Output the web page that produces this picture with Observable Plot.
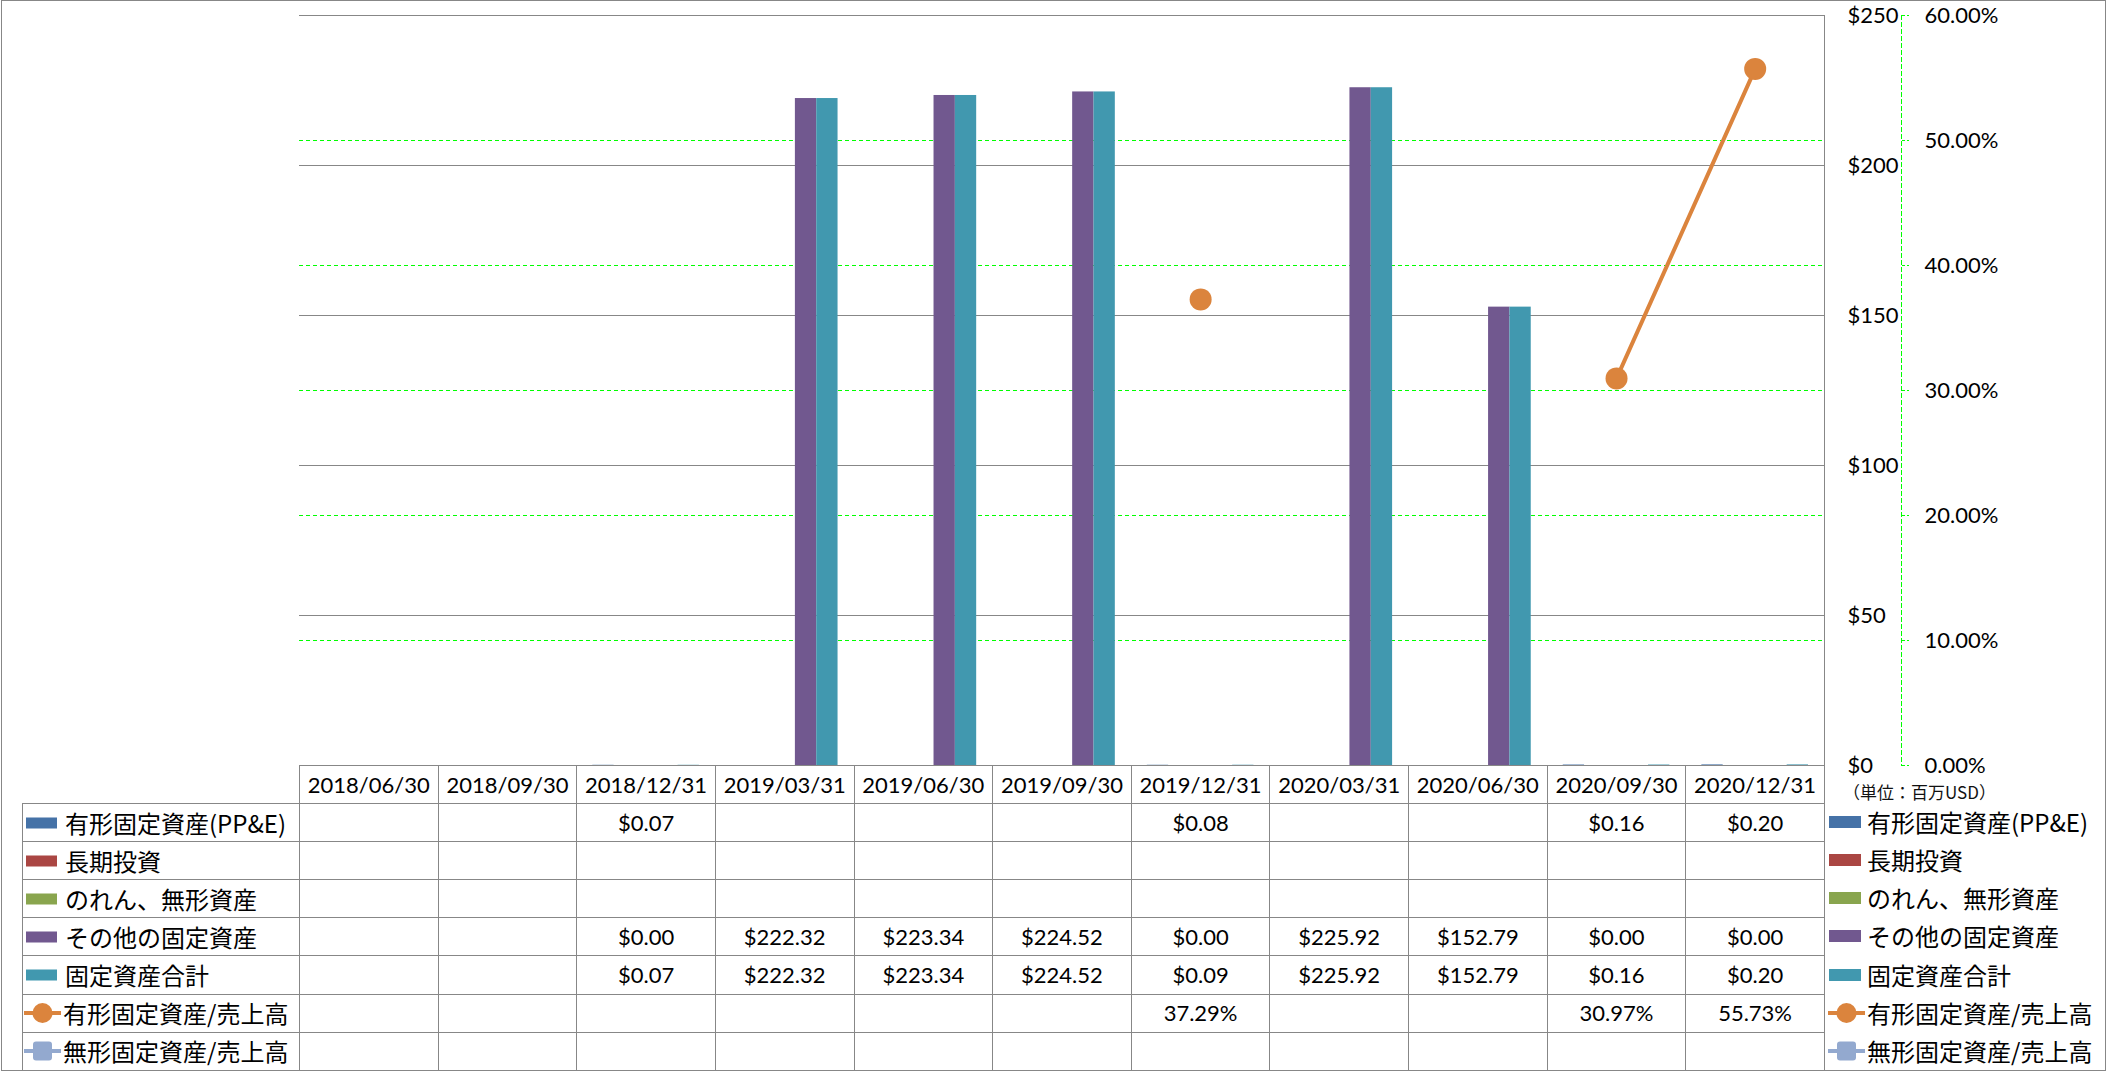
<!DOCTYPE html>
<html>
<head>
<meta charset="utf-8">
<script src="https://cdn.jsdelivr.net/npm/d3@7"></script>
<script src="https://cdn.jsdelivr.net/npm/@observablehq/plot@0.6"></script>
<style>
  body { margin: 0; background: #fff; }
  #chart { position: relative; width: 2107px; height: 1071px; overflow: hidden; background: #fff;
           font-family: Lato, "Noto Sans CJK JP", sans-serif; color: #000; }
  .layer { position: absolute; left: 0; top: 0; }
  .layer svg { max-width: none; }
  #border { position: absolute; left: 1px; top: 0; width: 2105px; height: 1071px; box-sizing: border-box;
            border: 1px solid #878787; pointer-events: none; }
  #tbl { position: absolute; left: 22px; top: 765px; width: 1802px; border-collapse: collapse; table-layout: fixed; }
  #tbl td { border: 1px solid #878787; padding: 0; height: 37.1px; text-align: center; vertical-align: middle;
            font-family: Lato, "Noto Sans CJK JP", sans-serif; font-size: 22px; line-height: 1; white-space: nowrap; }
  #tbl td.corner { border-top: hidden; border-left: hidden; }
  #tbl td.lab { text-align: left; }
  .labwrap { display: flex; align-items: center; font-family: "Noto Sans CJK JP", sans-serif; font-size: 24px; line-height: 1; }
  .labwrap svg { flex: none; display: block; }
  #unit { position: absolute; left: 1843px; top: 781px; font-family: "Noto Sans CJK JP", sans-serif; font-size: 17px;
          line-height: 22px; white-space: nowrap; color: #111; }
  #legend { position: absolute; left: 1827px; top: 803px; }
  #legend .item { height: 38.15px; display: flex; align-items: center; font-family: "Noto Sans CJK JP", sans-serif;
                  font-size: 24px; line-height: 1; white-space: nowrap; }
  #legend svg { flex: none; display: block; }
</style>
</head>
<body>
<div id="chart">
  <div id="layerG" class="layer"></div>
  <div id="layerD" class="layer"></div>
  <div id="layerA" class="layer"></div>
  <div id="layerL" class="layer"></div>
  <table id="tbl"></table>
  <div id="unit">（単位：百万USD）</div>
  <div id="legend"></div>
  <div id="border"></div>
</div>
<script>
// ---------------- data ----------------
const dates = ["2018/06/30","2018/09/30","2018/12/31","2019/03/31","2019/06/30","2019/09/30","2019/12/31","2020/03/31","2020/06/30","2020/09/30","2020/12/31"];
const ppe           = [null, null, 0.07, null,   null,   null,   0.08, null,   null,   0.16, 0.20];
const longTermInv   = [null, null, null, null,   null,   null,   null, null,   null,   null, null];
const goodwill      = [null, null, null, null,   null,   null,   null, null,   null,   null, null];
const otherFixed    = [null, null, 0.00, 222.32, 223.34, 224.52, 0.00, 225.92, 152.79, 0.00, 0.00];
const totalFixed    = [null, null, 0.07, 222.32, 223.34, 224.52, 0.09, 225.92, 152.79, 0.16, 0.20];
const ppeToSales    = [null, null, null, null,   null,   null,   0.3729, null, null,   0.3097, 0.5573];
const intangToSales = [null, null, null, null,   null,   null,   null, null,   null,   null, null];

const barNames  = ["有形固定資産(PP&E)", "長期投資", "のれん、無形資産", "その他の固定資産", "固定資産合計"];
const lineNames = ["有形固定資産/売上高", "無形固定資産/売上高"];
const barColors  = ["#4572A7", "#AA4643", "#89A54E", "#71588F", "#4198AF"];
const lineColors = ["#DB843D", "#93A9CF"];
const dollarTicks = [0, 50, 100, 150, 200, 250];
const pctTicks = [0, 0.1, 0.2, 0.3, 0.4, 0.5, 0.6];
const unitLabel = "（単位：百万USD）";

// ---------------- derived tables ----------------
const barArrays = [ppe, longTermInv, goodwill, otherFixed, totalFixed];
const lineArrays = [ppeToSales, intangToSales];
const barRows = [];
barArrays.forEach((arr, k) => arr.forEach((v, i) => {
  if (v != null) barRows.push({date: dates[i], series: barNames[k], value: v});
}));
const lineRows = lineArrays.map((arr, k) => dates.map((d, i) => ({date: d, series: lineNames[k], value: arr[i]})));

const gray = "#878787";
const green = "#00ff00";
const fontStyle = {background: "transparent", fontFamily: "Lato, 'Noto Sans CJK JP', sans-serif", fontSize: "22px", color: "#000", overflow: "visible"};
const common = {width: 2107, height: 766, marginTop: 15, marginBottom: 1, marginLeft: 299};

// ---------------- layer G: secondary (percent) axis + green grid ----------------
const plotG = Plot.plot({
  ...common, marginRight: 206,
  style: fontStyle,
  y: {domain: [0, 0.6], axis: null},
  marks: [
    Plot.ruleY(pctTicks.filter(t => t > 0 && t < 0.6), {stroke: green, strokeDasharray: "4,3", strokeWidth: 1, insetRight: 77}),
    Plot.frame({anchor: "right", stroke: green, strokeDasharray: "4,3"}),
    Plot.axisY({ticks: pctTicks, anchor: "right", label: null, tickSize: 7, tickPadding: 16, tickFormat: d3.format(".2%"),
                stroke: green, strokeDasharray: "3,2", fill: "#000", fontSize: 22})
  ]
});
document.getElementById("layerG").append(plotG);

// ---------------- layer D: primary ($) grid + axis ----------------
const plotD = Plot.plot({
  ...common, marginRight: 283,
  style: fontStyle,
  y: {domain: [0, 250], axis: null},
  marks: [
    Plot.gridY({ticks: dollarTicks, stroke: gray, strokeOpacity: 1, strokeWidth: 1}),
    Plot.axisY({ticks: dollarTicks, anchor: "right", label: null, tickSize: 0, tickPadding: 23, tickFormat: d => "$" + d, fontSize: 22})
  ]
});
document.getElementById("layerD").append(plotD);

// ---------------- layer A: grouped bars ----------------
const plotA = Plot.plot({
  ...common, marginRight: 283,
  style: fontStyle,
  fx: {domain: dates, padding: 0, round: false, axis: null, label: null},
  x: {domain: barNames, paddingInner: 0, paddingOuter: 0.75, round: false, axis: null},
  y: {domain: [0, 250], axis: null},
  color: {domain: barNames, range: barColors},
  marks: [
    Plot.barY(barRows, {fx: "date", x: "series", y: "value", fill: "series"})
  ]
});
document.getElementById("layerA").append(plotA);

// ---------------- layer L: ratio line ----------------
const plotL = Plot.plot({
  ...common, marginRight: 283,
  style: fontStyle,
  x: {type: "band", domain: dates, padding: 0, round: false, axis: null},
  y: {domain: [0, 0.6], axis: null},
  marks: [
    Plot.frame({anchor: "right", stroke: gray}),
    ...lineRows.map((rows, k) => Plot.line(rows, {x: "date", y: "value", stroke: lineColors[k], strokeWidth: 4})),
    ...lineRows.map((rows, k) => Plot.dot(rows.filter(d => d.value != null), {x: "date", y: "value", r: 11, fill: lineColors[k], stroke: "none", symbol: k === 0 ? "circle" : "square"}))
  ]
});
document.getElementById("layerL").append(plotL);

// ---------------- data table + legend ----------------
function swatch(kind, color, forLegend) {
  if (kind === "bar") {
    return forLegend
      ? `<svg width="38" height="22" style="margin-left:2px"><rect x="0" y="5" width="32" height="12" fill="${color}"/></svg>`
      : `<svg width="39" height="22" style="margin-left:3px"><rect x="0" y="5.5" width="31" height="11" fill="${color}"/></svg>`;
  }
  const w = 37;
  const marker = kind === "circle"
    ? `<circle cx="${w/2}" cy="11" r="10" fill="${color}"/>`
    : `<rect x="${w/2 - 9.5}" y="1.5" width="19" height="19" rx="3" fill="${color}"/>`;
  return `<svg width="${w + 2}" height="22" style="margin-left:1px"><line x1="0" y1="11" x2="${w}" y2="11" stroke="${color}" stroke-width="4"/>${marker}</svg>`;
}
const rowsDef = [
  ...barNames.map((n, k) => ({name: n, kind: "bar", color: barColors[k], values: barArrays[k], fmt: v => "$" + v.toFixed(2)})),
  ...lineNames.map((n, k) => ({name: n, kind: k === 0 ? "circle" : "square", color: lineColors[k], values: lineArrays[k], fmt: v => (v * 100).toFixed(2) + "%"}))
];
let html = `<colgroup><col style="width:277px">${dates.map(() => `<col style="width:${1525/11}px">`).join("")}</colgroup>`;
html += `<tr><td class="corner"></td>${dates.map(d => `<td>${d}</td>`).join("")}</tr>`;
for (const r of rowsDef) {
  html += `<tr><td class="lab"><div class="labwrap">${swatch(r.kind, r.color, false)}<span>${r.name}</span></div></td>` +
          r.values.map(v => `<td>${v == null ? "" : r.fmt(v)}</td>`).join("") + `</tr>`;
}
document.getElementById("tbl").innerHTML = html;

document.getElementById("legend").innerHTML = rowsDef.map(r =>
  `<div class="item">${swatch(r.kind, r.color, true)}<span>${r.name}</span></div>`).join("");
document.getElementById("unit").textContent = unitLabel;
</script>
</body>
</html>
